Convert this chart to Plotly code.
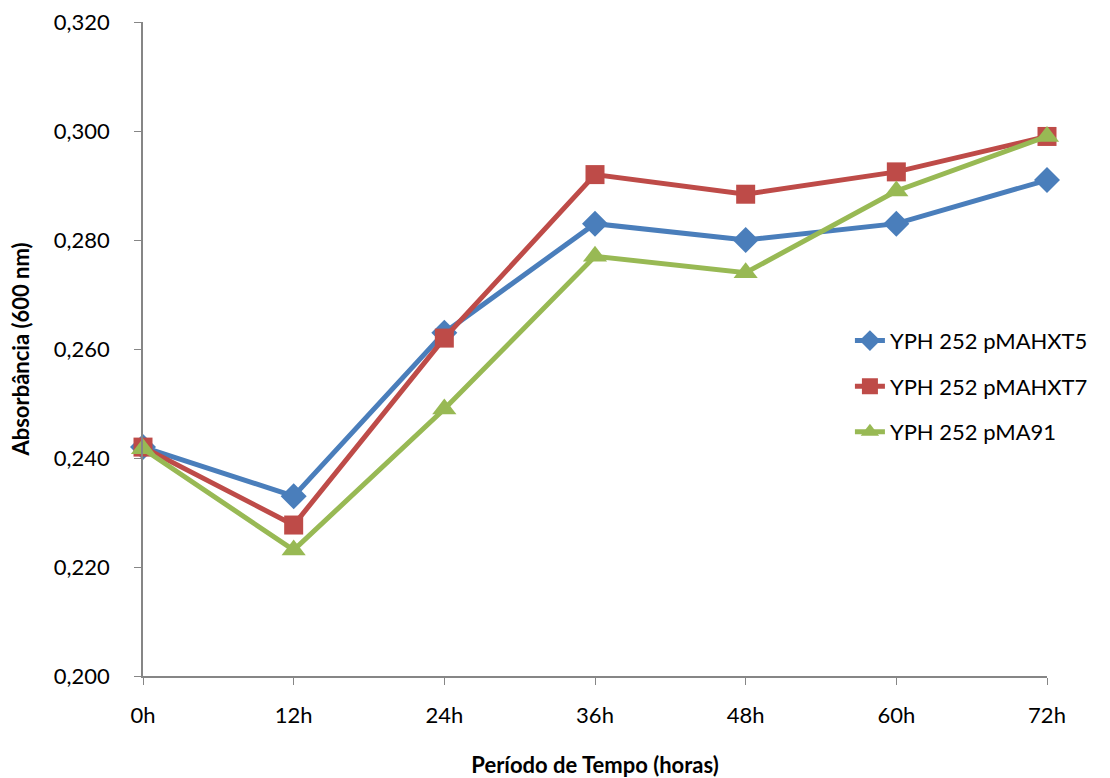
import plotly.graph_objects as go

# Sampling times and measured absorbance (600 nm)
periodos = ["0h", "12h", "24h", "36h", "48h", "60h", "72h"]
pmahxt5 = [0.242, 0.233, 0.263, 0.283, 0.280, 0.283, 0.291]
pmahxt7 = [0.242, 0.2277, 0.262, 0.292, 0.2884, 0.2925, 0.299]
pma91 = [0.2417, 0.2231, 0.249, 0.277, 0.274, 0.289, 0.299]

series = [
    ("YPH 252 pMAHXT5", pmahxt5, "#4A7EBB", "diamond", 20),
    ("YPH 252 pMAHXT7", pmahxt7, "#BE4B48", "square", 19),
    ("YPH 252 pMA91", pma91, "#98B954", "triangle-up", 21),
]

fig = go.Figure()
for i, (nome, vals, cor, simbolo, tam) in enumerate(series):
    fig.add_trace(go.Scatter(
        x=list(range(len(periodos))), y=vals, name=nome, mode="lines+markers",
        line=dict(color=cor, width=5),
        marker=dict(symbol=simbolo, size=tam, color=cor),
        cliponaxis=False, legendgroup=f"g{i}",
    ))

axis_color = "#868686"
font_family = "Lato, 'Open Sans', sans-serif"

fig.update_layout(
    width=1110, height=778,
    margin=dict(l=143, r=63, t=22, b=102),
    paper_bgcolor="white", plot_bgcolor="white",
    separators=",.",
    font=dict(family=font_family, size=22, color="black"),
    showlegend=True,
    legend=dict(x=0.782, y=0.443, xanchor="left", yanchor="middle",
                font=dict(size=22), tracegroupgap=14, bgcolor="rgba(0,0,0,0)"),
    xaxis=dict(
        tickmode="array", tickvals=list(range(len(periodos))), ticktext=periodos,
        range=[0, len(periodos) - 1], showgrid=False, zeroline=False,
        showline=True, linecolor=axis_color, linewidth=1.5, automargin=False,
        ticks="outside", ticklen=7, tickcolor=axis_color, ticklabelstandoff=12,
        title=dict(text="<b>Período de Tempo (horas)</b>", standoff=30, font=dict(size=22)),
    ),
    yaxis=dict(
        range=[0.2, 0.32], dtick=0.02, tickformat=".3f", showgrid=False,
        zeroline=False, showline=True, linecolor=axis_color, linewidth=1.5,
        automargin=False,
        ticks="outside", ticklen=7, tickcolor=axis_color, ticklabelstandoff=20,
        title=dict(text="<b>Absorbância (600 nm)</b>", standoff=18, font=dict(size=22)),
    ),
)

fig.write_html("out.html")
